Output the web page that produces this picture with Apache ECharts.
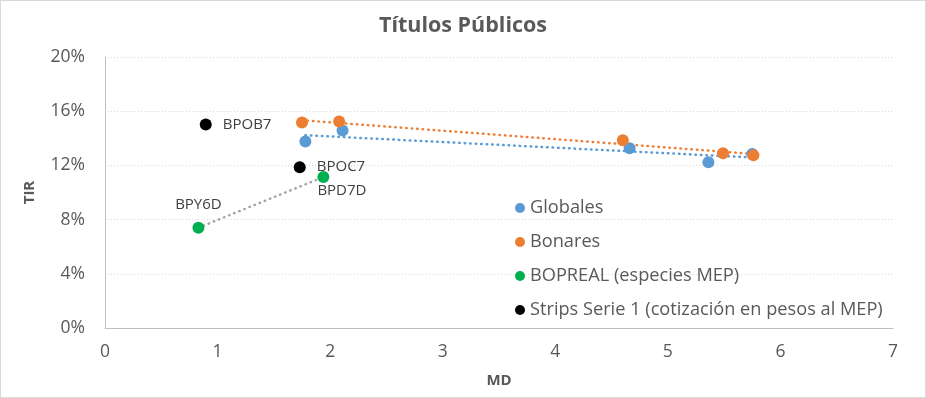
<!DOCTYPE html>
<html><head><meta charset="utf-8">
<script src="https://cdn.jsdelivr.net/npm/echarts@6/dist/echarts.min.js"></script>
<style>html,body{margin:0;padding:0;background:#fff}#c{width:926px;height:398px;box-sizing:border-box;border:1px solid #d9d9d9}</style>
</head><body><div id="c"></div>
<script>
const seriesNames = ['Globales','Bonares','BOPREAL (especies MEP)','Strips Serie 1 (cotización en pesos al MEP)'];
const globalesMD = [1.78, 2.11, 4.66, 5.36, 5.75];
const globalesTIR = [13.77, 14.58, 13.26, 12.23, 12.85];
const bonaresMD = [1.75, 2.08, 4.60, 5.49, 5.76];
const bonaresTIR = [15.16, 15.24, 13.85, 12.89, 12.75];
const boprealMD = [0.83, 1.94];
const boprealTIR = [7.40, 11.14];
const boprealLabels = ['BPY6D', 'BPD7D'];
const stripsMD = [0.895, 1.73];
const stripsTIR = [15.02, 11.87];
const stripsLabels = ['BPOB7', 'BPOC7'];
const yTicks = [0, 4, 8, 12, 16, 20];

const FONT = '"Open Sans", Lato, sans-serif';
const zip = (a, b) => a.map((v, i) => [v, b[i]]);
function trend(xs, ys) {
  const n = xs.length, mx = xs.reduce((s, v) => s + v, 0) / n, my = ys.reduce((s, v) => s + v, 0) / n;
  let sxy = 0, sxx = 0;
  xs.forEach((x, i) => { sxy += (x - mx) * (ys[i] - my); sxx += (x - mx) * (x - mx); });
  const b = sxy / sxx, a = my - b * mx;
  const x0 = Math.min(...xs), x1 = Math.max(...xs);
  return [[x0, a + b * x0], [x1, a + b * x1]];
}
const dotted = (color) => ({ color: color, width: 2.5, type: [0.5, 5], cap: 'round' });
const trendSeries = (data, color) => ({ type: 'line', data: data, symbol: 'none', silent: true, lineStyle: dotted(color), z: 1 });

const labelPos = {
  BPOB7: { position: 'right', distance: 11 },
  BPOC7: { position: 'right', distance: 11 },
  BPD7D: { position: 'right', offset: [-12, 14], distance: 0 },
  BPY6D: { position: 'top', offset: [0, -4] }
};
const labeled = (xs, ys, labels) => xs.map((x, i) => ({
  value: [x, ys[i]],
  label: Object.assign({ show: true, formatter: labels[i], color: '#404040', fontSize: 15, fontFamily: FONT }, labelPos[labels[i]])
}));
const dot = (color) => ({ color: color, opacity: 1 });

const chart = echarts.init(document.getElementById('c'));
chart.setOption({
  animation: false,
  title: { text: 'Títulos Públicos', left: 'center', top: 9, textStyle: { fontFamily: FONT, fontSize: 21.5, fontWeight: 'bold', color: '#595959' } },
  grid: { left: 104, right: 32, top: 56, bottom: 69 },
  xAxis: {
    type: 'value', min: 0, max: 7, interval: 1,
    name: 'MD', nameLocation: 'middle', nameGap: 45,
    nameTextStyle: { fontFamily: FONT, fontSize: 15, fontWeight: 'bold', color: '#595959' },
    axisLine: { show: true, lineStyle: { color: '#bfbfbf' } }, axisTick: { show: false },
    axisLabel: { fontFamily: FONT, fontSize: 17.5, color: '#595959', margin: 15 },
    splitLine: { show: false }
  },
  yAxis: {
    type: 'value', min: yTicks[0], max: yTicks[yTicks.length - 1], interval: 4,
    name: 'TIR', nameLocation: 'middle', nameGap: 68, nameRotate: 90,
    nameTextStyle: { fontFamily: FONT, fontSize: 15, fontWeight: 'bold', color: '#595959' },
    axisLine: { show: true, lineStyle: { color: '#bfbfbf' } }, axisTick: { show: false },
    axisLabel: { fontFamily: FONT, fontSize: 17.5, color: '#595959', margin: 20, formatter: '{value}%' },
    splitLine: { show: true, lineStyle: { color: '#d9d9d9', type: [1, 2] } }
  },
  legend: {
    data: seriesNames, orient: 'vertical', left: 514, top: 197, itemGap: 14, padding: 0,
    icon: 'circle', itemWidth: 10, itemHeight: 10,
    textStyle: { fontFamily: FONT, fontSize: 18.2, lineHeight: 20, color: '#595959', padding: [0, 0, 0, 0] }
  },
  series: [
    trendSeries(trend(globalesMD, globalesTIR), '#5B9BD5'),
    trendSeries(trend(bonaresMD, bonaresTIR), '#ED7D31'),
    trendSeries(trend(boprealMD, boprealTIR), '#A5A5A5'),
    { name: seriesNames[0], type: 'scatter', data: zip(globalesMD, globalesTIR), symbolSize: 12, itemStyle: dot('#5B9BD5'), z: 3 },
    { name: seriesNames[1], type: 'scatter', data: zip(bonaresMD, bonaresTIR), symbolSize: 12, itemStyle: dot('#ED7D31'), z: 4 },
    { name: seriesNames[2], type: 'scatter', data: labeled(boprealMD, boprealTIR, boprealLabels), symbolSize: 12, itemStyle: dot('#00B050'), z: 3 },
    { name: seriesNames[3], type: 'scatter', data: labeled(stripsMD, stripsTIR, stripsLabels), symbolSize: 12, itemStyle: dot('#000000'), z: 3 }
  ]
});
</script></body></html>
